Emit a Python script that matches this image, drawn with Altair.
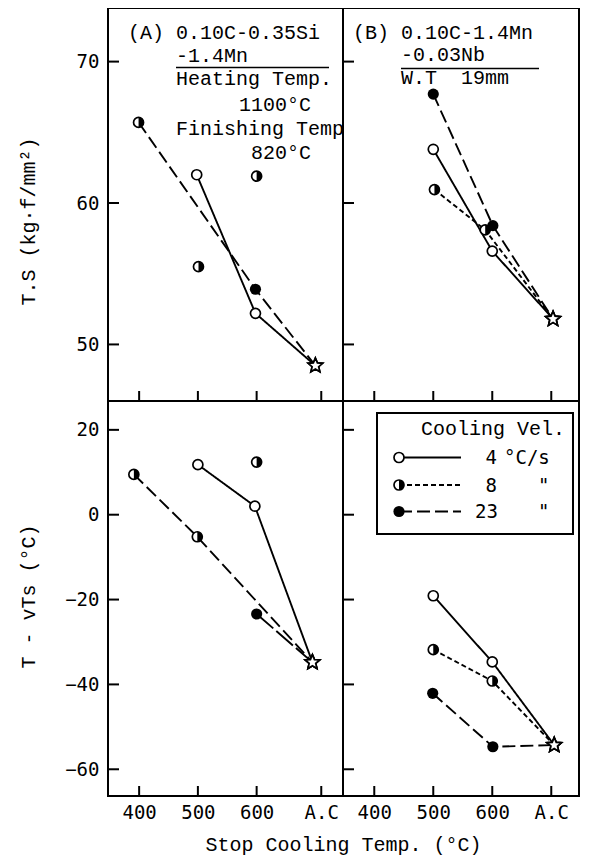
import math
import altair as alt
import pandas as pd

# ---------------- data ----------------
X_TICKS_LEFT = [400, 500, 600, 710]
X_TICKS_RIGHT = [400, 500, 600, 700]
TS_TICKS = [50, 60, 70]
VT_TICKS = [-60, -40, -20, 0, 20]

# (A) T.S
A_TS_4_X = [498, 598, 700]
A_TS_4_Y = [62.0, 52.2, 48.5]
A_TS_4_M = ["open", "open", "star"]
A_TS_23_X = [399, 598, 700]
A_TS_23_Y = [65.7, 53.9, 48.5]
A_TS_23_M = ["half", "filled", "star"]
A_TS_8_X = [501, 600]
A_TS_8_Y = [55.5, 61.9]
A_TS_8_M = ["half", "half"]

# (A) T - vTs
A_VT_4_X = [500, 597, 695]
A_VT_4_Y = [11.8, 2.0, -34.8]
A_VT_4_M = ["open", "open", "star"]
A_VT_8_X = [391, 499, 695]
A_VT_8_Y = [9.5, -5.2, -34.8]
A_VT_8_M = ["half", "half", "star"]
A_VT_23_X = [600, 695]
A_VT_23_Y = [-23.4, -34.8]
A_VT_23_M = ["filled", "star"]
A_VT_PT_X = [600]
A_VT_PT_Y = [12.4]
A_VT_PT_M = ["half"]

# (B) T.S
B_TS_4_X = [500, 600, 703]
B_TS_4_Y = [63.8, 56.6, 51.8]
B_TS_4_M = ["open", "open", "star"]
B_TS_8_X = [502, 588, 703]
B_TS_8_Y = [60.95, 58.1, 51.8]
B_TS_8_M = ["half", "half", "star"]
B_TS_23_X = [500, 601, 703]
B_TS_23_Y = [67.7, 58.4, 51.8]
B_TS_23_M = ["filled", "filled", "star"]

# (B) T - vTs
B_VT_4_X = [500, 600, 705]
B_VT_4_Y = [-19.1, -34.7, -54.3]
B_VT_4_M = ["open", "open", "star"]
B_VT_8_X = [500, 600, 705]
B_VT_8_Y = [-31.8, -39.2, -54.3]
B_VT_8_M = ["half", "half", "star"]
B_VT_23_X = [499, 601, 705]
B_VT_23_Y = [-42.1, -54.7, -54.3]
B_VT_23_M = ["filled", "filled", "star"]

GROUPS = [
    ("A_TS", "a4", A_TS_4_X, A_TS_4_Y, A_TS_4_M, "solid"),
    ("A_TS", "a23", A_TS_23_X, A_TS_23_Y, A_TS_23_M, "long"),
    ("A_TS", "a8", A_TS_8_X, A_TS_8_Y, A_TS_8_M, "none"),
    ("A_VT", "a4", A_VT_4_X, A_VT_4_Y, A_VT_4_M, "solid"),
    ("A_VT", "a8", A_VT_8_X, A_VT_8_Y, A_VT_8_M, "long"),
    ("A_VT", "a23", A_VT_23_X, A_VT_23_Y, A_VT_23_M, "longer"),
    ("A_VT", "apt", A_VT_PT_X, A_VT_PT_Y, A_VT_PT_M, "none"),
    ("B_TS", "b4", B_TS_4_X, B_TS_4_Y, B_TS_4_M, "solid"),
    ("B_TS", "b8", B_TS_8_X, B_TS_8_Y, B_TS_8_M, "short"),
    ("B_TS", "b23", B_TS_23_X, B_TS_23_Y, B_TS_23_M, "long"),
    ("B_VT", "b4", B_VT_4_X, B_VT_4_Y, B_VT_4_M, "solid"),
    ("B_VT", "b8", B_VT_8_X, B_VT_8_Y, B_VT_8_M, "short"),
    ("B_VT", "b23", B_VT_23_X, B_VT_23_Y, B_VT_23_M, "long"),
]

rows = []
for p, g, xs, ys, ms, dash in GROUPS:
    for x, y, m in zip(xs, ys, ms):
        rows.append({"panel": p, "group": g, "x": x, "y": y, "marker": m, "dash": dash})
df = pd.DataFrame(rows)

# ---------------- styling ----------------
MONO = "Liberation Mono"
SANSMONO = "DejaVu Sans Mono"
DASH_DOMAIN = ["solid", "short", "long", "longer"]
DASH_RANGE = [[1, 0], [5, 3], [13, 5], [22, 4]]
NBSP = "\u00a0"

HALF_PATH = "M0,-1A1,1,0,0,1,0,1Z"
pts = []
for k in range(10):
    r = 1.0 if k % 2 == 0 else 0.45
    a = math.radians(-90 + 36 * k)
    pts.append(f"{r * math.cos(a):.3f},{r * math.sin(a):.3f}")
STAR_PATH = "M" + "L".join(pts) + "Z"

XDOM = [347, 747]
TOP_H = 393   # top row plot height (frame cannot start above the page margin)
BOT_H = 395
DY = -3       # annotation shift because the top row starts 3px lower than the original


def txt(t, x, y, font=MONO, size=20, align="left"):
    return alt.Chart(pd.DataFrame({"a": [0]})).mark_text(
        text=t, font=font, fontSize=size, align=align, baseline="alphabetic", color="black"
    ).encode(x=alt.value(x), y=alt.value(y))


def hrule(x1, x2, y, dash=None, sw=1.5):
    kw = dict(color="black", strokeWidth=sw)
    if dash:
        kw["strokeDash"] = dash
    return alt.Chart(pd.DataFrame({"a": [0]})).mark_rule(**kw).encode(
        x=alt.value(x1), x2=alt.value(x2), y=alt.value(y)
    )


def panel(key, width, height, ydom, yticks, xticks, show_x, show_y,
          ytitle=None, ytitle_y=None, extra=()):
    d = df[df.panel == key]
    xscale = alt.Scale(domain=XDOM, nice=False, zero=False)
    yscale = alt.Scale(domain=ydom, nice=False, zero=False)
    if show_x:
        if key == "A_VT":
            xaxis = alt.Axis(values=xticks, labelExpr="datum.value >= 700 ? 'A.C' : datum.label",
                             ticks=False, domain=False, grid=False, labelPadding=7,
                             labelFlush=False, labelOverlap=False,
                             title="Stop Cooling Temp. (°C)", titleX=235, titleY=54,
                             titleAlign="center", titleBaseline="alphabetic")
        else:
            xaxis = alt.Axis(values=xticks, labelExpr="datum.value >= 700 ? 'A.C' : datum.label",
                             ticks=False, domain=False, grid=False, labelPadding=7,
                             labelFlush=False, labelOverlap=False, title=None)
    else:
        xaxis = None
    if show_y:
        yaxis = alt.Axis(values=yticks, ticks=False, domain=False, grid=False, labelPadding=9,
                         labelFlush=False, labelOverlap=False,
                         title=ytitle, titleX=-80, titleY=ytitle_y, titleAngle=270,
                         titleAlign="center", titleBaseline="middle")
    else:
        yaxis = None

    X = alt.X("x:Q", scale=xscale, axis=xaxis)
    Y = alt.Y("y:Q", scale=yscale, axis=yaxis)
    base = alt.Chart(d)

    lines = base.transform_filter("datum.dash != 'none'").mark_line(
        color="black", strokeWidth=1.9
    ).encode(
        x=X, y=Y, detail="group:N",
        strokeDash=alt.StrokeDash("dash:N", scale=alt.Scale(domain=DASH_DOMAIN, range=DASH_RANGE),
                                  legend=None),
    )
    opencirc = base.transform_filter("datum.marker == 'open' || datum.marker == 'half'").mark_point(
        shape="circle", filled=True, fill="white", stroke="black", strokeWidth=1.7, size=100, opacity=1
    ).encode(x=X, y=Y)
    half = base.transform_filter("datum.marker == 'half'").mark_point(
        shape=HALF_PATH, filled=True, fill="black", strokeWidth=0, size=100, opacity=1
    ).encode(x=X, y=Y)
    filled = base.transform_filter("datum.marker == 'filled'").mark_point(
        shape="circle", filled=True, fill="black", size=125, opacity=1
    ).encode(x=X, y=Y)
    star = base.transform_filter("datum.marker == 'star'").mark_point(
        shape=STAR_PATH, filled=True, fill="white", stroke="black", strokeWidth=1.7, size=230, opacity=1
    ).encode(x=X, y=Y)

    yt = alt.Chart(pd.DataFrame({"v": yticks})).mark_rule(color="black", strokeWidth=2).encode(
        y=alt.Y("v:Q", scale=yscale, axis=yaxis),
        x=alt.value(0), x2=alt.value(11),
    )
    xt = alt.Chart(pd.DataFrame({"v": xticks})).mark_rule(color="black", strokeWidth=2).encode(
        x=alt.X("v:Q", scale=xscale, axis=xaxis),
        y=alt.value(height), y2=alt.value(height - 10),
    )
    layers = [lines, yt, xt, opencirc, half, filled, star] + list(extra)
    return alt.layer(*layers).properties(width=width, height=height)


# annotations (y relative to the top row's plot top)
ann_A = [
    txt("(A) 0.10C-0.35Si", 20, 33.5 + DY),
    txt("-1.4Mn", 68, 57 + DY),
    hrule(68, 221, 62.5 + DY),
    txt("Heating Temp.", 68, 80 + DY),
    txt("1100°C", 131, 105.5 + DY),
    txt("Finishing Temp", 68, 130 + DY),
    txt("820°C", 143, 154 + DY),
]
ann_B = [
    txt("(B) 0.10C-1.4Mn", 10, 33.5 + DY),
    txt("-0.03Nb", 58, 56 + DY),
    hrule(58, 196, 63.5 + DY),
    txt("W.T" + NBSP * 2 + "19mm", 58, 79 + DY),
]

legend = [
    alt.Chart(pd.DataFrame({"a": [0]})).mark_rect(fill="white", stroke="black", strokeWidth=2).encode(
        x=alt.value(34), x2=alt.value(230), y=alt.value(12), y2=alt.value(133)),
    txt("Cooling Vel.", 222, 34, align="right"),
    hrule(56, 118, 56.5, sw=1.8),
    hrule(56, 118, 84, dash=[5, 3], sw=1.8),
    hrule(56, 118, 110.5, dash=[13, 5], sw=1.8),
]
for yy, kind in [(56.5, "open"), (84, "half"), (110.5, "filled")]:
    one = alt.Chart(pd.DataFrame({"a": [0]}))
    if kind in ("open", "half"):
        legend.append(one.mark_point(shape="circle", filled=True, fill="white", stroke="black",
                                     strokeWidth=1.7, size=100, opacity=1).encode(
            x=alt.value(56), y=alt.value(yy)))
    if kind == "half":
        legend.append(one.mark_point(shape=HALF_PATH, filled=True, fill="black", strokeWidth=0,
                                     size=100, opacity=1).encode(x=alt.value(56), y=alt.value(yy)))
    if kind == "filled":
        legend.append(one.mark_point(shape="circle", filled=True, fill="black", size=125,
                                     opacity=1).encode(x=alt.value(56), y=alt.value(yy)))
legend += [
    txt("4", 154, 63, font=SANSMONO, size=19, align="right"),
    txt("°C/s", 161, 63, font=SANSMONO, size=19),
    txt("8", 154, 91, font=SANSMONO, size=19, align="right"),
    txt('"', 195, 91, font=SANSMONO, size=19),
    txt("23", 155, 117, font=SANSMONO, size=19, align="right"),
    txt('"', 195, 117, font=SANSMONO, size=19),
]

tl = panel("A_TS", 235, TOP_H, [46, 73.79], TS_TICKS, X_TICKS_LEFT, False, True,
           ytitle="T.S (kg·f/mm²)", ytitle_y=213, extra=ann_A)
tr = panel("B_TS", 236, TOP_H, [46, 73.79], TS_TICKS, X_TICKS_RIGHT, False, False, extra=ann_B)
bl = panel("A_VT", 235, BOT_H, [-66.3, 26.8], VT_TICKS, X_TICKS_LEFT, True, True,
           ytitle="T - vTs (°C)", ytitle_y=195)
br = panel("B_VT", 236, BOT_H, [-66.3, 26.8], VT_TICKS, X_TICKS_RIGHT, True, False, extra=legend)

chart = alt.concat(tl, tr, bl, br, columns=2, spacing=0, bounds="flush").properties(
    padding={"left": 9, "top": -1, "right": 0, "bottom": 0},
    background="white",
).configure_view(stroke="black", strokeWidth=2).configure_axis(
    labelFont=SANSMONO, labelFontSize=19, labelColor="black",
    titleFont=MONO, titleFontSize=20, titleFontWeight="normal", titleColor="black",
)

chart.save("out.html", embed_options={"renderer": "svg", "actions": False})
